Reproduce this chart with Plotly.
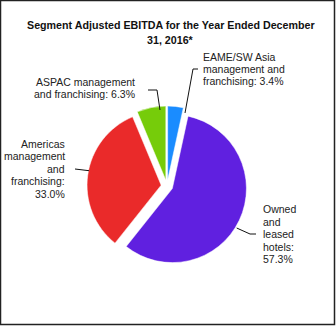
import plotly.graph_objects as go

# Segment shares, clockwise from 12 o'clock
segments = ["EAME/SW Asia management and franchising",
            "Owned and leased hotels",
            "Americas management and franchising",
            "ASPAC management and franchising"]
shares = [3.4, 57.3, 33.0, 6.3]
colors = ["#1a8cff", "#6020e0", "#ea2a2a", "#76cc0a"]

# Wrapped caption lines; the last line carries the value
caption_lines = [
    ["EAME/SW Asia", "management and", "franchising: {:.1f}%"],
    ["Owned", "and", "leased", "hotels:", "{:.1f}%"],
    ["Americas", "management", "and", "franchising:", "{:.1f}%"],
    ["ASPAC management", "and franchising: {:.1f}%"],
]

W, H = 336, 326


def px(x):
    return x / W


def py(y):
    return 1 - y / H


fig = go.Figure(go.Pie(
    labels=segments,
    values=shares,
    sort=False,
    direction="clockwise",
    rotation=0,
    pull=[0.08] * len(shares),
    marker=dict(colors=colors, line=dict(color="white", width=0.5)),
    textinfo="none",
    hoverinfo="label+percent",
    showlegend=False,
    domain=dict(x=[px(87), px(247)], y=[py(266), py(106)]),
))

font = dict(family="Liberation Sans, Arial, sans-serif", size=10.5, color="#222222")

# caption placement: anchor x, first line centre y, line step, anchor side
placements = [
    (200.7, 57.0, 11.8, "left"),
    (260.7, 209.0, 12.5, "left"),
    (66.7, 144.0, 12.4, "right"),
    (137.0, 81.8, 12.6, "right"),
]
annotations = []
for lines, val, (x, y0, step, side) in zip(caption_lines, shares, placements):
    for i, line in enumerate(lines):
        annotations.append(dict(
            x=px(x), y=py(y0 + i * step), xref="paper", yref="paper",
            text=line.format(val), showarrow=False,
            xanchor=side, yanchor="middle", align=side, font=font,
        ))

title_font = dict(family="Liberation Sans, Arial, sans-serif", size=10.7, color="#111111")
for i, line in enumerate(["Segment Adjusted EBITDA for the Year Ended December", "31, 2016*"]):
    annotations.append(dict(
        x=px(170.5), y=py(25 + i * 15), xref="paper", yref="paper",
        text=f"<b>{line}</b>", showarrow=False,
        xanchor="center", yanchor="middle", font=title_font,
    ))

# leader lines from captions to slices
leaders = [
    [(198, 69), (193, 69), (185, 113)],
    [(256, 234), (250, 234), (236.7, 228)],
    [(75, 169), (89, 170.7)],
    [(148, 90), (157, 90), (160, 110)],
]
shapes = []
for pts in leaders:
    path = "M " + " L ".join(f"{px(a)},{py(b)}" for a, b in pts)
    shapes.append(dict(type="path", xref="paper", yref="paper", path=path,
                       line=dict(color="#111111", width=1)))

# outer frame
shapes.append(dict(type="rect", xref="paper", yref="paper",
                   x0=px(0.5), x1=px(W - 1.5), y0=py(H - 1.5), y1=py(0.5),
                   line=dict(color="#222222", width=1.5)))

fig.update_layout(
    width=W, height=H,
    margin=dict(l=0, r=0, t=0, b=0),
    paper_bgcolor="white",
    plot_bgcolor="white",
    annotations=annotations,
    shapes=shapes,
)

fig.write_html("out.html")
